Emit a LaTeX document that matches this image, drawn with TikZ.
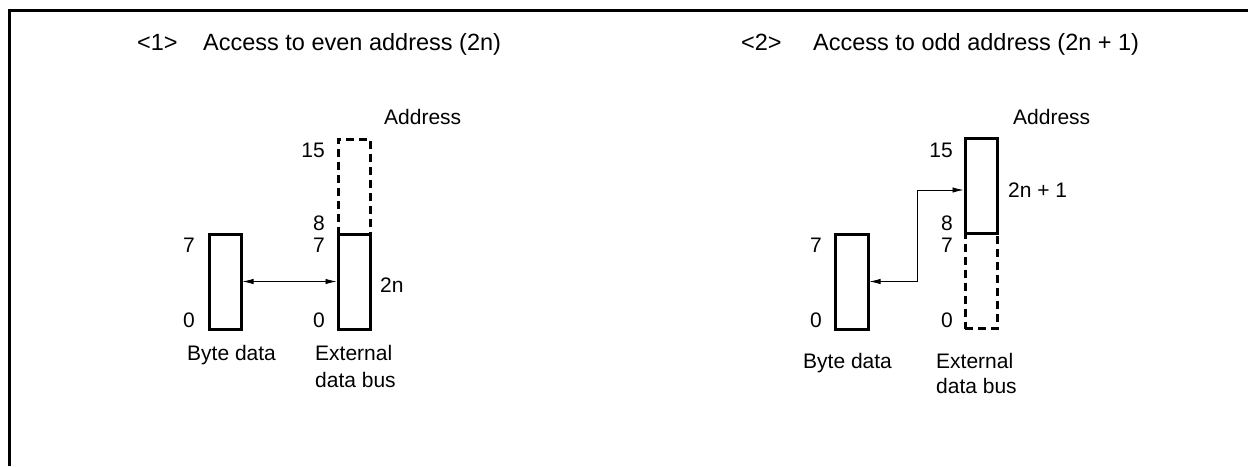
\documentclass[tikz,border=0pt]{standalone}
\usepackage{fontspec}
\setmainfont{Liberation Sans}
\usetikzlibrary{arrows.meta}

\begin{document}
\begin{tikzpicture}[x=1pt, y=-1pt,
  every node/.style={inner sep=0pt, font=\fontsize{21}{25}\selectfont},
  reg/.style={draw, line width=3pt, minimum width=32pt, minimum height=95pt},
  regdash/.style={reg, dash pattern=on 8pt off 5pt},
  num/.style={anchor=base east},
  lab/.style={anchor=base west},
  title/.style={anchor=base west, font=\fontsize{23.5}{28}\selectfont},
  bus/.style={{Latex[length=11pt,width=5.5pt]}-{Latex[length=11pt,width=5.5pt]}, line width=0.8pt}]
\useasboundingbox (0,0) rectangle (1248,466);
\draw[line width=3pt] (1248,10.5) -| (9.5,466);

% <1> even address
\node[title] (t1) at (137,50) {<1>};
\node[title] (h1) at (203,50) {Access to even address (2n)};

\node[regdash] (busAhi) at (354,186.5) {};
\node[reg] (byteA) at (225,281.5) {};
\node[reg] (busA) at (354,281.5) {};

\node[lab] (adrA) at (384,124) {Address};
\node[num] (a15) at (325,157) {15};
\node[num] (a8) at (325,230) {8};
\node[num] (a7) at (325,252) {7};
\node[num] (a0) at (325,327) {0};
\node[num] (b7) at (195,252) {7};
\node[num] (b0) at (195,327) {0};
\node[lab] (even) at (380,292) {2n};
\node[lab] (byteAl) at (187,360) {Byte data};
\node[lab] (extA) at (315,360) {External};
\node[lab] (extAb) at (315,387) {data bus};

\draw[bus] (byteA) -- (busA);

% <2> odd address
\node[title] (t2) at (741,50) {<2>};
\node[title] (h2) at (813,50) {Access to odd address (2n + 1)};

\node[regdash] (busBlo) at (981,281) {};
\node[reg] (busBhi) at (981,185.5) {};
\node[reg, minimum width=33pt] (byteB) at (851.5,281.5) {};

\node[lab] (adrB) at (1013,124) {Address};
\node[num] (c15) at (953,157) {15};
\node[num] (c8) at (953,230) {8};
\node[num] (c7) at (953,252) {7};
\node[num] (c0) at (953,327) {0};
\node[num] (d7) at (822,252) {7};
\node[num] (d0) at (822,327) {0};
\node[lab] (odd) at (1008,197) {2n + 1};
\node[lab] (byteBl) at (803,368) {Byte data};
\node[lab] (extB) at (936,368) {External};
\node[lab] (extBb) at (936,393) {data bus};

\coordinate (bendB) at (917,281.5);
\draw[bus] (byteB.east) -- (bendB) |- ([yshift=-4.5pt]busBhi.west);
\end{tikzpicture}
\end{document}
